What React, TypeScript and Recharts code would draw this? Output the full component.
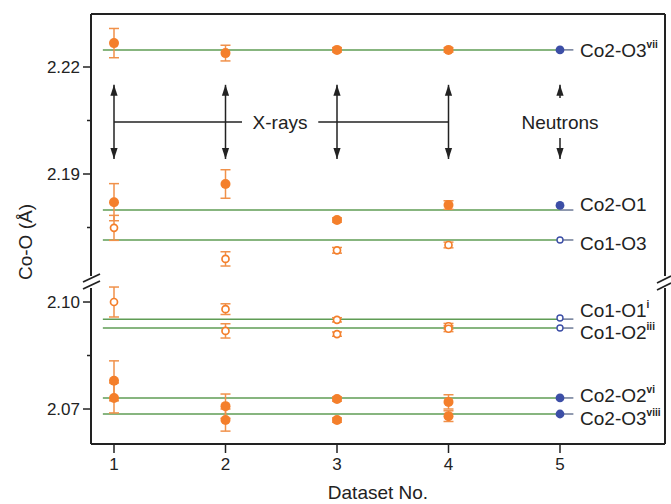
import React from 'react';
import {
  ComposedChart,
  Scatter,
  XAxis,
  YAxis,
  ErrorBar,
  ReferenceLine,
  ReferenceDot,
} from 'recharts';

// ---- data -------------------------------------------------------------
const xrayRuns = [1, 2, 3, 4];
const neutronRun = 5;
const xTicks = [1, 2, 3, 4, 5];

// X-ray bond lengths (Å) and their esd, one entry per dataset 1-4
const co2O3vii = [2.2267, 2.2239, 2.2248, 2.2248];
const co2O3viiErr = [0.0041, 0.0022, 0.0006, 0.0006];
const co2O1 = [2.1821, 2.1872, 2.1771, 2.1813];
const co2O1Err = [0.0052, 0.004, 0.0006, 0.0012];
const co1O3 = [2.1749, 2.1662, 2.1686, 2.1701];
const co1O3Err = [0.0035, 0.002, 0.0008, 0.0008];
const co1O1i = [2.1, 2.098, 2.095, 2.0932];
const co1O1iErr = [0.0042, 0.0015, 0.0006, 0.0008];
const co1O2iii = [null, 2.0919, 2.091, 2.0925];
const co1O2iiiErr = [null, 0.002, 0.0006, 0.0008];
const co2O2vi = [2.0779, 2.0708, 2.0728, 2.072];
const co2O2viErr = [0.0056, 0.0034, 0.0006, 0.002];
const co2O3viii = [2.0731, 2.0669, 2.0669, 2.068];
const co2O3viiiErr = [0.0042, 0.0031, 0.0006, 0.0015];

// bond names, symmetry codes, neutron values and reference levels
const bondNames = ['Co2-O3', 'Co2-O1', 'Co1-O3', 'Co1-O1', 'Co1-O2', 'Co2-O2', 'Co2-O3'];
const bondSymm = ['vii', '', '', 'i', 'iii', 'vi', 'viii'];
const neutronValues = [2.2248, 2.1812, 2.1715, 2.0955, 2.0927, 2.0731, 2.0686];
const referenceLevels = [2.2248, 2.1799, 2.1715, 2.0952, 2.0927, 2.0731, 2.0686];

// axis ranges for the two halves of the broken axis
const upperDomain = [2.15972, 2.23486];
const lowerDomain = [2.06019, 2.10561];
const upperTicks = [2.175, 2.19, 2.205, 2.22];
const lowerTicks = [2.07, 2.085, 2.1];
const majorTicks = [2.07, 2.1, 2.19, 2.22];
const xDomain = [0.7937, 5.9417];

// annotation anchors (data units)
const arrowTop = 2.215;
const arrowBottom = 2.1942;
const arrowMid = 2.2046;
const xrayTextX = 2.489;
const xrayGap = [2.148, 2.832];
const neutronUpStart = 2.2113;
const neutronDownStart = 2.2001;

// ---- styling -----------------------------------------------------------
const FONT = '"Liberation Sans", Arial, Helvetica, sans-serif';
const INK = '#222222';
const ORANGE = '#f47f2b';
const ORANGE_ERR = '#f0914a';
const BLUE = '#3c4ea6';
const GREEN = '#5f9c55';
const LEADER = '#6d7a96';
const W = 671;
const SPLIT = 282;
const labelDy = [0, -6, 3, -9, 4, -3, 4];
const labelX = 5.18;

type Bond = {
  idx: number;
  filled: boolean;
  upper: boolean;
  points: { x: number; y: number; err: number }[];
  neutron: { x: number; y: number }[];
};

const xraySeries = [
  [co2O3vii, co2O3viiErr],
  [co2O1, co2O1Err],
  [co1O3, co1O3Err],
  [co1O1i, co1O1iErr],
  [co1O2iii, co1O2iiiErr],
  [co2O2vi, co2O2viErr],
  [co2O3viii, co2O3viiiErr],
];

const bonds: Bond[] = xraySeries.map(([vals, errs], i) => ({
  idx: i,
  filled: bondNames[i].startsWith('Co2'),
  upper: i < 3,
  points: xrayRuns
    .map((x, k) => ({ x, y: vals[k] as number, err: errs[k] as number }))
    .filter((p) => p.y != null),
  neutron: [{ x: neutronRun, y: neutronValues[i] }],
}));

// ---- shapes --------------------------------------------------------------
const OrangeDot = (filled: boolean) => (p: any) =>
  filled ? (
    <circle cx={p.cx} cy={p.cy} r={5} fill={ORANGE} />
  ) : (
    <circle cx={p.cx} cy={p.cy} r={3.5} fill="#fff" stroke={ORANGE} strokeWidth={1.7} />
  );

const BlueDot = (filled: boolean) => (p: any) =>
  filled ? (
    <circle cx={p.cx} cy={p.cy} r={4.4} fill={BLUE} />
  ) : (
    <circle cx={p.cx} cy={p.cy} r={3} fill="#fff" stroke={BLUE} strokeWidth={1.4} />
  );

function head(tx: number, ty: number, fx: number, fy: number, len = 11, half = 3.6) {
  const dx = tx - fx;
  const dy = ty - fy;
  const d = Math.hypot(dx, dy) || 1;
  const ux = dx / d;
  const uy = dy / d;
  const bx = tx - ux * len;
  const by = ty - uy * len;
  return `${tx},${ty} ${bx - uy * half},${by + ux * half} ${bx + uy * half},${by - ux * half}`;
}

const Arrow = (both: boolean) => (p: any) => {
  const { x1, y1, x2, y2 } = p;
  return (
    <g>
      <line x1={x1} y1={y1} x2={x2} y2={y2} stroke={INK} strokeWidth={1.5} />
      <polygon points={head(x2, y2, x1, y1)} fill={INK} />
      {both && <polygon points={head(x1, y1, x2, y2)} fill={INK} />}
    </g>
  );
};

const Plain = (p: any) => (
  <line x1={p.x1} y1={p.y1} x2={p.x2} y2={p.y2} stroke={INK} strokeWidth={1.5} />
);

const TextAt = (text: string) => (p: any) => (
  <text
    x={p.cx}
    y={p.cy}
    dy="0.36em"
    textAnchor="middle"
    fontFamily={FONT}
    fontSize={19}
    fill={INK}
  >
    {text}
  </text>
);

const BondLabel = (i: number) => (p: any) => (
  <text
    x={p.cx}
    y={p.cy + labelDy[i] + 6.8}
    fontFamily={FONT}
    fontSize={19}
    fill={INK}
  >
    {bondNames[i]}
    {bondSymm[i] && (
      <tspan dy={-9} fontSize={10} fontWeight={700}>
        {bondSymm[i]}
      </tspan>
    )}
  </text>
);

const YTick = (p: any) => {
  const v = Math.round(p.payload.value * 1000) / 1000;
  const major = majorTicks.includes(v);
  const axisX = p.x + 3 + 8;
  return (
    <g>
      <line
        x1={axisX - (major ? 8 : 4)}
        x2={axisX}
        y1={p.y}
        y2={p.y}
        stroke={INK}
        strokeWidth={1.5}
      />
      {major && (
        <text
          x={p.x}
          y={p.y}
          dy="0.36em"
          textAnchor="end"
          fontFamily={FONT}
          fontSize={17}
          fill={INK}
        >
          {v.toFixed(2)}
        </text>
      )}
    </g>
  );
};

// ---- panels ---------------------------------------------------------------
function panelContent(upper: boolean) {
  const list = bonds.filter((b) => b.upper === upper);
  const els: React.ReactNode[] = [];
  list.forEach((b) => {
    const lvl = referenceLevels[b.idx];
    els.push(
      <ReferenceLine
        key={`g${b.idx}`}
        segment={[
          { x: 0.9, y: lvl },
          { x: neutronRun, y: lvl },
        ]}
        stroke={GREEN}
        strokeWidth={1.5}
      />,
      <ReferenceLine
        key={`l${b.idx}`}
        segment={[
          { x: neutronRun, y: lvl },
          { x: 5.12, y: lvl },
        ]}
        stroke={LEADER}
        strokeWidth={1.5}
      />
    );
  });
  list.forEach((b) => {
    els.push(
      <Scatter
        key={`s${b.idx}`}
        data={b.points}
        isAnimationActive={false}
        shape={OrangeDot(b.filled)}
      >
        <ErrorBar
          dataKey="err"
          direction="y"
          width={5}
          stroke={ORANGE_ERR}
          strokeWidth={1.5}
          isAnimationActive={false}
        />
      </Scatter>,
      <Scatter
        key={`n${b.idx}`}
        data={b.neutron}
        isAnimationActive={false}
        shape={BlueDot(b.filled)}
      />,
      <ReferenceDot
        key={`t${b.idx}`}
        x={labelX}
        y={referenceLevels[b.idx]}
        r={0}
        shape={BondLabel(b.idx)}
      />
    );
  });
  return els;
}

function annotations() {
  const els: React.ReactNode[] = [];
  xrayRuns.forEach((x) => {
    els.push(
      <ReferenceLine
        key={`a${x}`}
        segment={[
          { x, y: arrowTop },
          { x, y: arrowBottom },
        ]}
        shape={Arrow(true)}
      />
    );
  });
  els.push(
    <ReferenceLine
      key="h1"
      segment={[
        { x: xrayRuns[0], y: arrowMid },
        { x: xrayGap[0], y: arrowMid },
      ]}
      shape={Plain}
    />,
    <ReferenceLine
      key="h2"
      segment={[
        { x: xrayGap[1], y: arrowMid },
        { x: xrayRuns[xrayRuns.length - 1], y: arrowMid },
      ]}
      shape={Plain}
    />,
    <ReferenceDot key="xt" x={xrayTextX} y={arrowMid} r={0} shape={TextAt('X-rays')} />,
    <ReferenceLine
      key="nu"
      segment={[
        { x: neutronRun, y: neutronUpStart },
        { x: neutronRun, y: arrowTop },
      ]}
      shape={Arrow(false)}
    />,
    <ReferenceLine
      key="nd"
      segment={[
        { x: neutronRun, y: neutronDownStart },
        { x: neutronRun, y: arrowBottom },
      ]}
      shape={Arrow(false)}
    />,
    <ReferenceDot key="nt" x={neutronRun} y={arrowMid} r={0} shape={TextAt('Neutrons')} />
  );
  return els;
}

const frameLine = { stroke: INK, strokeWidth: 2 };

export default function App() {
  return (
    <div style={{ position: 'absolute', left: 0, top: 0, width: W, height: 504, background: '#fff' }}>
      <div style={{ position: 'absolute', left: 0, top: 0 }}>
        <ComposedChart
          width={W}
          height={SPLIT}
          margin={{ top: 13, right: 5, bottom: 0, left: 0 }}
        >
          <XAxis
            xAxisId={0}
            type="number"
            dataKey="x"
            domain={xDomain}
            allowDataOverflow
            hide
          />
          <XAxis
            xAxisId="top"
            orientation="top"
            type="number"
            domain={xDomain}
            allowDataOverflow
            height={1}
            tick={false}
            tickLine={false}
            axisLine={frameLine}
          />
          <YAxis
            yAxisId={0}
            type="number"
            dataKey="y"
            domain={upperDomain}
            allowDataOverflow
            ticks={upperTicks}
            interval={0}
            width={91}
            tickSize={8}
            tickMargin={3}
            tickLine={false}
            tick={YTick}
            axisLine={frameLine}
          />
          <YAxis
            yAxisId="r"
            orientation="right"
            type="number"
            domain={upperDomain}
            allowDataOverflow
            width={1}
            tick={false}
            tickLine={false}
            axisLine={frameLine}
          />
          {annotations()}
          {panelContent(true)}
        </ComposedChart>
      </div>
      <div style={{ position: 'absolute', left: 0, top: SPLIT }}>
        <ComposedChart
          width={W}
          height={504 - SPLIT}
          margin={{ top: 0, right: 5, bottom: 0, left: 0 }}
        >
          <XAxis
            xAxisId={0}
            type="number"
            dataKey="x"
            domain={xDomain}
            allowDataOverflow
            ticks={xTicks}
            interval={0}
            height={60}
            tickSize={9}
            tickMargin={5}
            tick={{ fontSize: 17, fill: INK, fontFamily: FONT }}
            tickLine={{ stroke: INK, strokeWidth: 1.5 }}
            axisLine={frameLine}
            label={{
              value: 'Dataset No.',
              position: 'insideBottom',
              offset: 5,
              fontSize: 19,
              fill: INK,
              fontFamily: FONT,
            }}
          />
          <YAxis
            yAxisId={0}
            type="number"
            dataKey="y"
            domain={lowerDomain}
            allowDataOverflow
            ticks={lowerTicks}
            interval={0}
            width={91}
            tickSize={8}
            tickMargin={3}
            tickLine={false}
            tick={YTick}
            axisLine={frameLine}
          />
          <YAxis
            yAxisId="r"
            orientation="right"
            type="number"
            domain={lowerDomain}
            allowDataOverflow
            width={1}
            tick={false}
            tickLine={false}
            axisLine={frameLine}
          />
          {panelContent(false)}
        </ComposedChart>
      </div>
      {/* axis title and the break marks on both vertical axes */}
      <svg
        width={W}
        height={504}
        style={{ position: 'absolute', left: 0, top: 0, pointerEvents: 'none' }}
      >
        <text
          transform="translate(32,242) rotate(-90)"
          textAnchor="middle"
          fontFamily={FONT}
          fontSize={19}
          fill={INK}
        >
          Co-O (Å)
        </text>
        <rect x={86} y={276} width={10} height={12} fill="#fff" />
        <line x1={83} y1={282} x2={100} y2={274} stroke={INK} strokeWidth={1.8} />
        <line x1={83} y1={289} x2={100} y2={281} stroke={INK} strokeWidth={1.8} />
        <rect x={660} y={276} width={10} height={12} fill="#fff" />
        <line x1={657} y1={283} x2={671} y2={276} stroke={INK} strokeWidth={1.8} />
        <line x1={657} y1={290} x2={671} y2={283} stroke={INK} strokeWidth={1.8} />
      </svg>
    </div>
  );
}
